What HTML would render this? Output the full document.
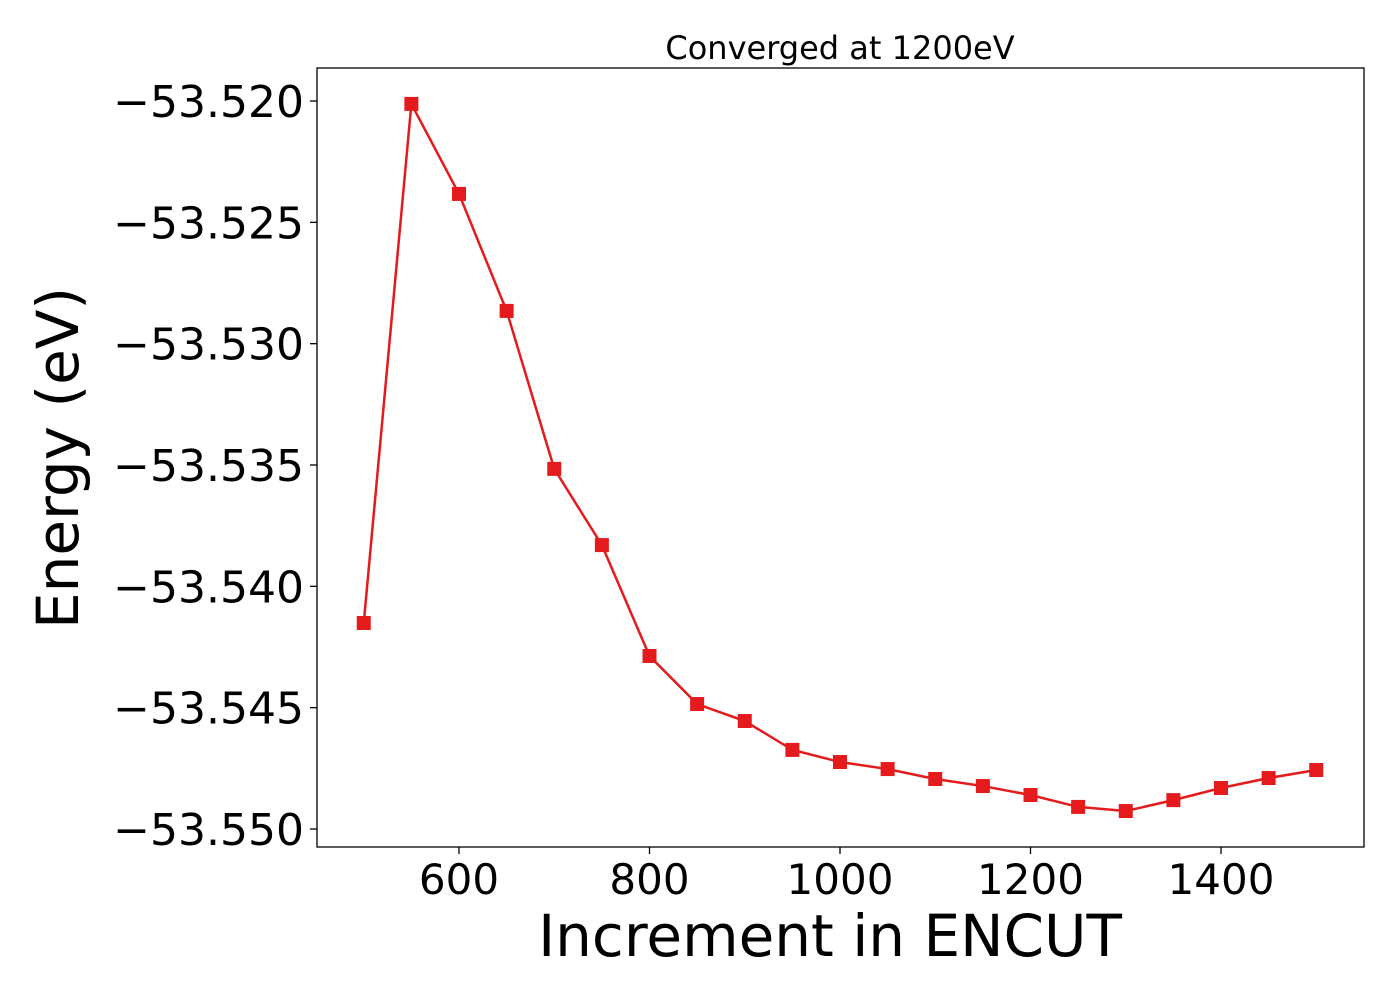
<!DOCTYPE html>
<html><head><meta charset="utf-8"><style>
html,body{margin:0;padding:0;background:#fff;}
svg{display:block;font-family:"DejaVu Sans","Liberation Sans",sans-serif;}
</style></head><body>
<svg id="chart" width="1400" height="1000" viewBox="0 0 1400 1000">
<rect x="0" y="0" width="1400" height="1000" fill="#fff"/>
<text x="840" y="59" font-size="32" text-anchor="middle">Converged at 1200eV</text>
<g id="xticks"></g>
<g id="yticks"></g>
<g id="series"></g>
<rect x="317" y="68" width="1047" height="779" fill="none" stroke="#000" stroke-width="1.3"/>
<text x="830" y="956" font-size="58" text-anchor="middle">Increment in ENCUT</text>
<text transform="translate(78,458) rotate(-90)" font-size="58" text-anchor="middle">Energy (eV)</text>
</svg>
<script>
const encut = [500,550,600,650,700,750,800,850,900,950,1000,1050,1100,1150,1200,1250,1300,1350,1400,1450,1500];
const energy = [-53.54151,-53.52012,-53.52383,-53.52865,-53.53516,-53.53830,-53.54287,-53.54485,-53.54555,-53.54674,-53.54724,-53.54753,-53.54794,-53.54823,-53.54860,-53.54909,-53.54926,-53.54881,-53.54831,-53.54790,-53.54757];
const xTicks = [600,800,1000,1200,1400];
const yTicks = [-53.520,-53.525,-53.530,-53.535,-53.540,-53.545,-53.550];
const yTickLabels = ["\u221253.520","\u221253.525","\u221253.530","\u221253.535","\u221253.540","\u221253.545","\u221253.550"];

const NS = "http://www.w3.org/2000/svg";
function xs(v){ return 459 + (v - 600) * (190.5/200); }
function ys(v){ return 101 + (-53.520 - v) * (728/0.030); }

const gx = document.getElementById('xticks');
xTicks.forEach(t => {
  const l = document.createElementNS(NS,'line');
  l.setAttribute('x1', xs(t)); l.setAttribute('x2', xs(t));
  l.setAttribute('y1', 847); l.setAttribute('y2', 854);
  l.setAttribute('stroke', '#000'); l.setAttribute('stroke-width', '1.3');
  
  
  gx.appendChild(l);
  const tx = document.createElementNS(NS,'text');
  tx.setAttribute('x', xs(t)); tx.setAttribute('y', 894);
  tx.setAttribute('font-size', '42'); tx.setAttribute('text-anchor', 'middle');
  tx.textContent = t;
  
  
  gx.appendChild(tx);
});

const gy = document.getElementById('yticks');
yTicks.forEach((t, i) => {
  const l = document.createElementNS(NS,'line');
  l.setAttribute('x1', 310); l.setAttribute('x2', 317);
  l.setAttribute('y1', ys(t)); l.setAttribute('y2', ys(t));
  l.setAttribute('stroke', '#000'); l.setAttribute('stroke-width', '1.3');
  
  
  gy.appendChild(l);
  const tx = document.createElementNS(NS,'text');
  tx.setAttribute('x', 304); tx.setAttribute('y', ys(t) + 16);
  tx.setAttribute('font-size', '44'); tx.setAttribute('text-anchor', 'end');
  tx.textContent = yTickLabels[i];
  
  
  gy.appendChild(tx);
});

const gs = document.getElementById('series');
const pl = document.createElementNS(NS,'polyline');
pl.setAttribute('points', encut.map((v,i) => xs(v) + ',' + ys(energy[i])).join(' '));
pl.setAttribute('fill', 'none'); pl.setAttribute('stroke', '#e41a1c'); pl.setAttribute('stroke-width', '2.5');


gs.appendChild(pl);
encut.forEach((v, i) => {
  const r = document.createElementNS(NS,'rect');
  r.setAttribute('x', xs(v) - 7); r.setAttribute('y', ys(energy[i]) - 7);
  r.setAttribute('width', 14); r.setAttribute('height', 14);
  r.setAttribute('fill', '#e41a1c');
  
  
  gs.appendChild(r);
});
</script>
</body></html>
